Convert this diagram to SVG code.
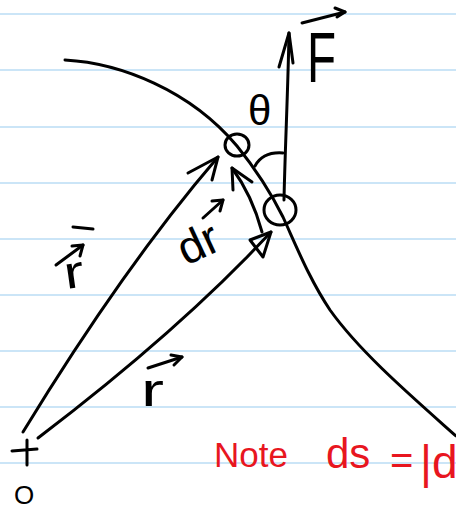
<svg xmlns="http://www.w3.org/2000/svg" width="456" height="509" viewBox="0 0 456 509">
<style>
.rule{stroke:#cbe5f7;stroke-width:2}
.ink{fill:none;stroke:#000;stroke-width:3;stroke-linecap:round;stroke-linejoin:round}
.t{font-family:"Liberation Sans",Arial,sans-serif;fill:#000}
.red{font-family:"Liberation Sans",Arial,sans-serif;fill:#e8161f}
</style>
<rect width="456" height="509" fill="#fff"/>
<g id="ruling">
<line class="rule" x1="0" y1="14" x2="456" y2="14"/>
<line class="rule" x1="0" y1="70" x2="456" y2="70"/>
<line class="rule" x1="0" y1="127" x2="456" y2="127"/>
<line class="rule" x1="0" y1="183" x2="456" y2="183"/>
<line class="rule" x1="0" y1="239" x2="456" y2="239"/>
<line class="rule" x1="0" y1="295" x2="456" y2="295"/>
<line class="rule" x1="0" y1="351" x2="456" y2="351"/>
<line class="rule" x1="0" y1="407" x2="456" y2="407"/>
<line class="rule" x1="0" y1="463" x2="456" y2="463"/>
</g>
<g id="path-curve">
<path class="ink" d="M65,60 C120,63 190,90 237,146 C258,172 272,195 283,217 C298,250 310,280 330,310 C360,352 410,395 456,436"/>
</g>
<g id="points">
<ellipse class="ink" cx="237" cy="145" rx="12" ry="11" stroke-width="3.5"/>
<ellipse class="ink" cx="280" cy="210" rx="16" ry="15" stroke-width="5"/>
</g>
<g id="connectors">
<path class="ink" d="M284,200 C285,150 288,90 289,33"/>
<polyline class="ink" points="279,67 289,33 293,63"/>
<path class="ink" d="M23,432 Q125,265 218,157"/>
<polyline class="ink" points="188,173 218,157 212,180"/>
<path class="ink" d="M38,438 Q180,330 271,232"/>
<polygon class="ink" points="250,240 271,232 263,257"/>
<path class="ink" d="M262,232 Q252,195 232,168"/>
<polyline class="ink" points="233,190 232,168 252,182"/>
<path class="ink" d="M255,166 C260,157 270,152 283,153"/>
</g>
<g id="origin">
<path class="ink" d="M27,440 L27,465 M12,451 L37,449" stroke-width="4"/>
<text class="t" x="14" y="504" font-size="26">O</text>
</g>
<g id="labels">
<text class="t" x="0" y="0" font-size="70" transform="translate(307,82) scale(0.68,1)">F</text>
<polyline class="ink" points="302,23 345,12"/>
<polyline class="ink" points="335,8 345,12 337,17"/>
<text class="t" x="248" y="125" font-size="42">θ</text>
<text class="t" x="0" y="0" font-size="46" transform="translate(186,266) rotate(-25)">dr</text>
<polyline class="ink" points="203,218 223,200"/>
<polyline class="ink" points="212,201 223,200 220,211"/>
<text class="t" x="0" y="0" font-size="46" transform="translate(66,289) rotate(-8) scale(1.3,1)">r</text>
<line class="ink" x1="73" y1="227" x2="93" y2="229"/>
<polyline class="ink" points="56,265 83,245"/>
<polyline class="ink" points="72,246 83,245 80,256"/>
<text class="t" x="0" y="0" font-size="46" transform="translate(141,406) scale(1.5,1)">r</text>
<polyline class="ink" points="148,368 182,357"/>
<polyline class="ink" points="171,355 182,357 174,365"/>
</g>
<g id="note">
<text class="red" x="214" y="467" font-size="35">Note</text>
<text class="red" x="326" y="468" font-size="42">ds</text>
<text class="red" x="390" y="474" font-size="40">=</text>
<text class="red" x="420" y="478" font-size="46">|d</text>
</g>
</svg>
